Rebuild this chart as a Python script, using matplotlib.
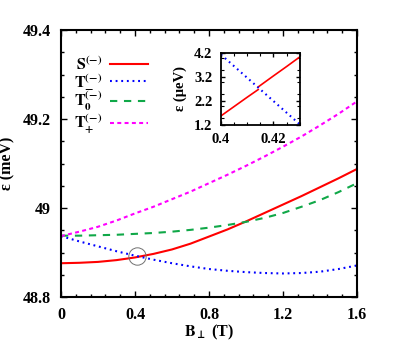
import numpy as np
import matplotlib
matplotlib.use('Agg')
import matplotlib.pyplot as plt
from matplotlib.ticker import MultipleLocator

plt.rcParams['font.family'] = ['Liberation Serif', 'DejaVu Serif']
plt.rcParams['font.weight'] = 'bold'
plt.rcParams['mathtext.fontset'] = 'stix'

# main panel data (B in T, energies in meV)
B = [0.0, 0.1, 0.2, 0.3, 0.4, 0.5, 0.6, 0.7, 0.8, 0.9, 1.0, 1.1, 1.2, 1.3, 1.4, 1.5, 1.6]
S_minus = [48.876, 48.877, 48.879, 48.883, 48.889, 48.897, 48.907, 48.920, 48.936,
           48.952, 48.970, 48.989, 49.008, 49.027, 49.047, 49.067, 49.088]
T_m = [48.937, 48.925, 48.914, 48.903, 48.893, 48.884, 48.876, 48.869, 48.863,
       48.859, 48.856, 48.854, 48.853, 48.854, 48.857, 48.863, 48.871]
T_0 = [48.938, 48.938, 48.939, 48.940, 48.942, 48.944, 48.947, 48.951, 48.956,
       48.962, 48.969, 48.978, 48.989, 49.003, 49.018, 49.036, 49.056]
T_p = [48.937, 48.947, 48.958, 48.972, 48.988, 49.003, 49.020, 49.037, 49.056,
       49.075, 49.095, 49.116, 49.138, 49.161, 49.186, 49.212, 49.240]
cross_B = 0.413
cross_E = 48.892

# inset data (B in T, energies in ueV)
B_in_S = [0.4, 0.405, 0.41, 0.4142, 0.4142, 0.4142, 0.42, 0.425, 0.43]
S_in = [1.57, 1.96, 2.35, 2.67, np.nan, 2.78, 3.24, 3.63, 4.03]
B_in_T = [0.4, 0.405, 0.41, 0.415, 0.42, 0.425, 0.43]
T_in = [4.13, 3.645, 3.16, 2.675, 2.19, 1.705, 1.22]

labels = [r'$\mathbf{S}^{(-)}$', r'$\mathbf{T}_{-}^{(-)}$',
          r'$\mathbf{T}_{0}^{(-)}$', r'$\mathbf{T}_{+}^{(-)}$']

fig = plt.figure(figsize=(4.09, 3.43), dpi=100)
ax = fig.add_axes([0.149, 0.134, 0.724, 0.778])

lw = 1.5
ax.plot(B, S_minus, color='#ff0000', lw=lw, label=labels[0])
ax.plot(B, T_m, color='#0000ff', lw=lw, dashes=(0.9, 1.8), label=labels[1])
ax.plot(B, T_0, color='#10a848', lw=lw, dashes=(3.5, 3.2), label=labels[2])
ax.plot(B, T_p, color='#ff00ff', lw=lw, dashes=(1.9, 1.6), label=labels[3])
ax.plot([cross_B], [cross_E], marker='o', ms=12.5, mfc='none', mec='#707070', mew=0.7)

ax.set_xlim(0, 1.6)
ax.set_ylim(48.8, 49.4)
ax.set_xticks([0, 0.4, 0.8, 1.2, 1.6])
ax.set_xticklabels(['0', '0.4', '0.8', '1.2', '1.6'])
ax.set_yticks([48.8, 49.0, 49.2, 49.4])
ax.set_yticklabels(['48.8', '49', '49.2', '49.4'])
ax.xaxis.set_minor_locator(MultipleLocator(0.08))
ax.yaxis.set_minor_locator(MultipleLocator(0.05))
ax.tick_params(which='both', direction='in', top=True, right=True, labelsize=11.5, pad=7)
ax.tick_params(which='major', length=4, width=1)
ax.tick_params(which='minor', length=2.5, width=1)
for sp in ax.spines.values():
    sp.set_linewidth(1.5)
ax.set_xlabel(r'$\mathbf{B}_{\bot}$ (T)', fontsize=11.5, fontweight='bold', labelpad=0)
ax.set_ylabel('ε (meV)', fontsize=11.5, fontweight='bold')
ax.yaxis.set_label_coords(-0.155, 0.5)

ax.legend(loc='upper left', bbox_to_anchor=(0.022, 0.93), frameon=False, markerfirst=False,
          fontsize=11.5, handlelength=2.4, handletextpad=0.5, labelspacing=-0.14,
          borderaxespad=0)

# inset
axi = fig.add_axes([0.540, 0.636, 0.193, 0.210])
axi.plot(B_in_S, S_in, color='#ff0000', lw=1.2)
axi.plot(B_in_T, T_in, color='#0000ff', lw=1.5, dashes=(0.8, 1.8))
axi.set_xlim(0.4, 0.43)
axi.set_ylim(1.2, 4.2)
axi.set_xticks([0.4, 0.42])
axi.set_xticklabels(['0.4', '0.42'])
axi.set_yticks([1.2, 2.2, 3.2, 4.2])
axi.xaxis.set_minor_locator(MultipleLocator(0.005))
axi.yaxis.set_minor_locator(MultipleLocator(0.5))
axi.tick_params(which='both', direction='in', top=True, right=True, labelsize=10.5, pad=6)
axi.tick_params(which='major', length=3, width=1)
axi.tick_params(which='minor', length=2, width=0.8)
for sp in axi.spines.values():
    sp.set_linewidth(1.3)
axi.set_ylabel('ε (μeV)', fontsize=10.5, fontweight='bold', labelpad=5)

fig.savefig('out.png', dpi=100)
